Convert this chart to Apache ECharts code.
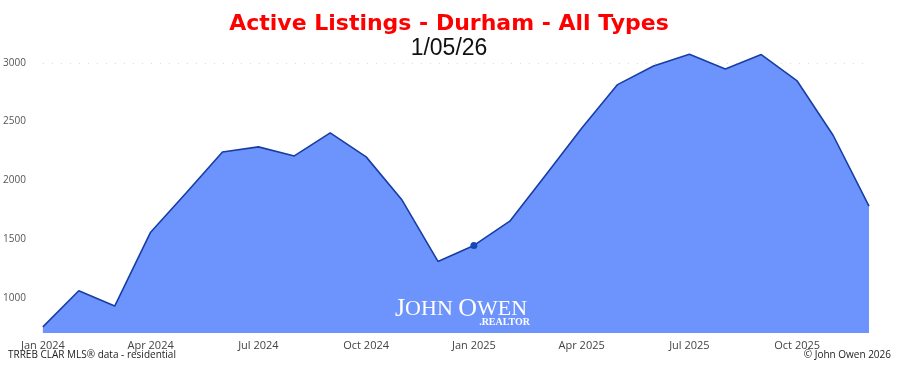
<!DOCTYPE html>
<html>
<head>
<meta charset="utf-8">
<style>
html,body{margin:0;padding:0;background:#fff;}
#chart{width:898px;height:366px;}
</style>
<script src="https://cdn.jsdelivr.net/npm/echarts@6/dist/echarts.min.js"></script>
</head>
<body>
<div id="chart"></div>
<script>
const categories = ["Jan 2024","Feb 2024","Mar 2024","Apr 2024","May 2024","Jun 2024","Jul 2024","Aug 2024","Sep 2024","Oct 2024","Nov 2024","Dec 2024",
  "Jan 2025","Feb 2025","Mar 2025","Apr 2025","May 2025","Jun 2025","Jul 2025","Aug 2025","Sep 2025","Oct 2025","Nov 2025","Dec 2025"];
const activeListings = [752,1060,929,1558,1895,2240,2284,2207,2403,2199,1831,1309,
  1445,1652,2045,2443,2814,2972,3072,2947,3070,2845,2383,1780];
const yTickValues = [1000,1500,2000,2500,3000];
const highlightIndex = 12;

const chart = echarts.init(document.getElementById('chart'));
const seriesData = activeListings.map((v,i)=> i===highlightIndex
  ? {value:v, symbol:'circle', symbolSize:7, itemStyle:{color:'#1448b4'}}
  : {value:v, symbol:'none'});

chart.setOption({
  animation:false,
  backgroundColor:'#ffffff',
  grid:{left:42,right:29,top:51,bottom:33},
  xAxis:{
    type:'category', data:categories, boundaryGap:false,
    axisLine:{show:false}, axisTick:{show:false},
    axisLabel:{interval:2, margin:7, color:'#444', fontSize:11, fontFamily:'Open Sans'},
    splitLine:{show:false}
  },
  yAxis:{
    type:'value', min:700, max:3100, interval:100,
    axisLine:{show:false}, axisTick:{show:false},
    axisLabel:{margin:17, color:'#555', fontSize:10, fontFamily:'Open Sans',
      formatter:v=> yTickValues.includes(v)? String(v):''},
    splitLine:{show:false}
  },
  series:[{
    type:'line', data:seriesData, showSymbol:true,
    lineStyle:{color:'#173ea5', width:1.6},
    areaStyle:{color:'#6d93fc', opacity:1},
    z:2,
    markLine:{
      silent:true, symbol:'none', label:{show:false},
      lineStyle:{color:'#d8d8d8', type:[1,8], width:1},
      data:[{yAxis:3000}], z:1
    }
  }],
  graphic:[
    {type:'text', left:'center', top:13, style:{text:'Active Listings - Durham - All Types', fill:'#ff0000', font:'bold 22px "DejaVu Sans", sans-serif'}},
    {type:'text', left:'center', top:37, style:{text:'1/05/26', fill:'#111', font:'23px "Liberation Sans", Arial, sans-serif'}},
    {type:'text', left:395, top:296, z:10, style:{
      text:'{b|J}{s|OHN }{b|O}{s|WEN}', fill:'#ffffff',
      rich:{b:{fontSize:26, fontFamily:'"Liberation Serif", serif', fill:'#fff'}, s:{fontSize:22, fontFamily:'"Liberation Serif", serif', fill:'#fff'}}
    }},
    {type:'text', right:368, top:317, z:10, style:{text:'.REALTOR', fill:'#ffffff', font:'bold 10px "Liberation Serif", serif'}},
    {type:'text', left:8, top:350, style:{text:'TRREB CLAR MLS® data - residential', fill:'#222', font:'10px "Open Sans", sans-serif'}},
    {type:'text', right:7, top:350, style:{text:'© John Owen 2026', fill:'#222', font:'10px "Open Sans", sans-serif'}}
  ]
});
</script>
</body>
</html>
